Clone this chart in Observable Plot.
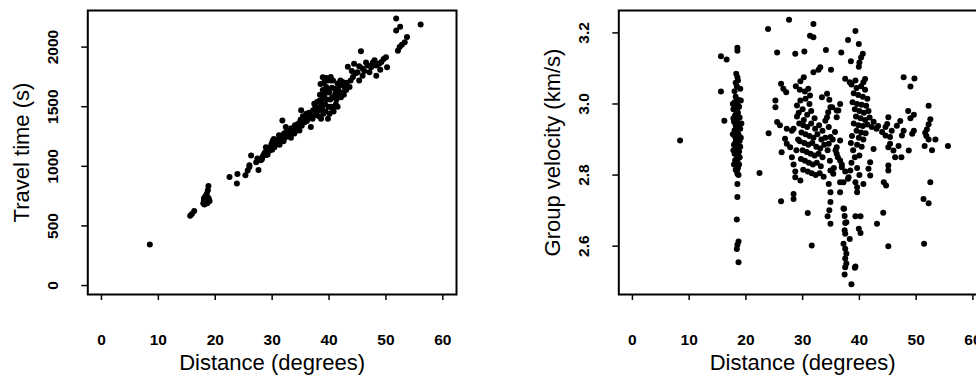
<!DOCTYPE html>
<html>
<head>
<meta charset="utf-8">
<script src="https://cdn.jsdelivr.net/npm/d3@7"></script>
<script src="https://cdn.jsdelivr.net/npm/@observablehq/plot@0.6"></script>
<style>
html, body { margin: 0; padding: 0; background: #fff; overflow: hidden; width: 976px; height: 377px; }
#wrap { position: relative; width: 976px; height: 377px; overflow: hidden; }
#left { position: absolute; left: 0; top: 0; width: 470px; height: 377px; }
#right { position: absolute; left: 500px; top: 0; width: 500px; height: 377px; }
#wrap svg { max-width: none !important; }
</style>
</head>
<body>
<div id="wrap"><div id="left"></div><div id="right"></div></div>
<script>
// ---- tick values and labels ----
const xTicks = [0, 10, 20, 30, 40, 50, 60];
const travelTicks = [0, 500, 1000, 1500, 2000];
const velocityTicks = [2.6, 2.8, 3.0, 3.2];
const xTitle = "Distance (degrees)";
const travelTitle = "Travel time (s)";
const velocityTitle = "Group velocity (km/s)";

// ---- left panel: [distance (deg), travel time (s)] ----
const travelPoints = [
  [8.5,345],[15.6,585],[15.9,600],[16.3,625],
  [17.9,690],[18.0,710],[18.1,680],[18.2,700],[18.3,725],[18.4,690],[18.5,745],[18.6,715],
  [18.7,700],[18.8,735],[18.5,770],[18.7,800],[18.8,835],[19.0,710],
  [18.0,730],[18.3,750],[18.6,690],[18.9,720],[18.4,710],[18.2,740],
  [22.5,910],[23.9,935],[23.8,855],[25.3,925],[25.7,965],[26.0,995],[26.0,1010],[26.3,1090],
  [27.2,1035],[27.4,1065],[27.6,970],[28.0,1050],[28.3,1080],[28.6,1105],[28.9,1160],[29.2,1100],
  [29.5,1130],[29.8,1170],[30.1,1215],[30.4,1160],[30.0,1140],[30.7,1190],[31.0,1220],[31.3,1180],
  [31.6,1245],[31.2,1260],[31.8,1385],[32.1,1275],[32.4,1330],[32.0,1210],[32.7,1250],[33.0,1290],
  [33.3,1240],[33.6,1310],[33.9,1275],[34.2,1330],[34.5,1355],[34.8,1300],[35.1,1470],[35.0,1390],
  [35.4,1420],[35.7,1370],[36.0,1440],[36.3,1400],[36.8,1330],[37.1,1400],[37.4,1525],[37.5,1460],
  [28.2,1060],[28.5,1090],[28.8,1120],[29.0,1095],[29.3,1140],[29.6,1150],[29.9,1190],[30.2,1175],
  [30.5,1200],[30.8,1215],[30.3,1230],[31.1,1200],[31.4,1240],[31.7,1225],[31.9,1260],[32.2,1240],
  [32.5,1290],[32.8,1300],[33.1,1265],[33.4,1320],[33.7,1280],[34.0,1345],[34.3,1300],[34.6,1320],
  [34.9,1370],[35.2,1340],[35.5,1390],[35.8,1410],[36.1,1380],[36.5,1450],[36.9,1420],[37.2,1470],
  [37.8,1430],[38.0,1490],[38.3,1550],[38.6,1555],[38.6,1400],[38.9,1640],[38.8,1480],[39.2,1600],
  [39.5,1665],[39.3,1520],[39.8,1720],[39.8,1400],[39.6,1560],[40.1,1440],[40.0,1620],[40.3,1750],
  [40.4,1500],[40.6,1580],[40.9,1580],[41.0,1650],[41.2,1520],[41.5,1695],[41.8,1600],[42.1,1580],
  [42.4,1705],[42.7,1665],[43.0,1640],[43.6,1665],[38.9,1748],[40.3,1720],[42.4,1706],
  [37.6,1500],[37.9,1540],[38.2,1470],[38.4,1600],[38.5,1690],[38.7,1520],[39.0,1580],[39.1,1700],
  [39.4,1460],[39.5,1740],[39.7,1640],[39.9,1500],[40.2,1560],[40.5,1660],[40.7,1720],[40.8,1460],
  [41.1,1610],[41.3,1560],[41.6,1640],[41.9,1680],[42.2,1620],[42.0,1720],[42.6,1600],[43.1,1700],
  [38.2,1420],[39.0,1440],[40.6,1480],[41.5,1500],
  [43.3,1835],[44.4,1860],[45.0,1790],[44.2,1750],[45.3,1720],[45.9,1760],[45.6,1965],[45.9,1820],
  [46.8,1845],[47.1,1790],[48.0,1890],[48.3,1845],[48.3,1760],[49.2,1875],[50.0,1915],[50.2,1830],
  [43.8,1720],[44.0,1800],[44.7,1780],[45.3,1840],[46.2,1800],[46.5,1870],[47.4,1830],[47.7,1870],
  [48.8,1860],[49.6,1900],[49.0,1810],
  [51.8,2240],[56.1,2190],[51.8,2140],[52.5,2170],[53.7,2085],[53.3,2040],[52.4,2000],[52.1,1970],[52.8,2020]
];

// ---- right panel: [distance (deg), group velocity (km/s)] ----
const velocityPoints = [
  [8.4,2.897],[15.6,3.134],[16.6,3.125],[15.6,3.035],[16.2,2.953],
  [18.5,3.158],[18.5,3.150],[18.3,3.085],[18.5,3.075],[18.6,3.066],[18.2,3.060],[19.0,3.043],[18.0,3.036],[18.4,3.050],
  [18.2,3.020],[18.6,3.012],[18.0,3.005],[18.4,2.998],[18.8,2.992],[17.8,2.985],[18.3,2.980],[18.6,2.975],
  [18.1,2.968],[18.9,2.962],[18.4,2.955],[17.9,2.950],[18.6,2.945],[18.2,2.940],[18.8,2.932],[18.0,2.926],
  [18.4,2.920],[18.7,2.914],[18.1,2.908],[18.5,2.902],[18.9,2.896],[18.3,2.890],[17.9,2.885],[18.6,2.878],
  [18.2,2.872],[18.8,2.866],[18.0,2.860],[18.4,2.854],[18.7,2.848],[18.1,2.842],[18.5,2.836],[18.3,2.828],
  [18.6,2.820],[18.4,2.812],[18.5,2.804],[18.5,2.775],[18.5,2.738],[18.4,2.675],[18.7,2.613],[18.5,2.604],
  [18.4,2.592],[18.7,2.555],[22.4,2.806],
  [17.7,3.000],[19.1,3.010],[17.8,2.960],[19.2,2.945],[17.7,2.915],[19.1,2.905],[17.8,2.870],[19.0,2.880],
  [18.9,2.850],[17.9,2.830],[18.8,2.830],[18.2,2.815],[18.7,2.800],[18.0,2.955],[18.4,2.985],[18.2,2.895],
  [18.6,2.860],[19.0,2.930],[18.3,2.930],[18.6,2.995],
  [23.9,3.211],[27.6,3.237],[31.9,3.225],[31.3,3.192],[31.9,3.188],[25.5,3.145],[28.7,3.141],[30.3,3.148],
  [34.1,3.152],[36.8,3.145],[31.9,3.089],[32.8,3.096],[33.1,3.103],[35.0,3.096],[30.2,3.075],[29.6,3.064],
  [26.2,3.057],[26.6,3.043],[27.1,3.033],[31.0,3.043],[31.3,3.024],[30.5,3.015],[29.6,3.010],[29.0,2.996],
  [25.2,3.010],[25.2,2.991],[34.7,3.012],[34.9,2.991],[34.5,2.977],[34.3,2.963],[36.6,3.000],[36.3,2.982],
  [36.0,2.963],[25.5,2.949],[26.0,2.940],[27.2,2.930],[28.1,2.925],[28.4,2.930],[24.0,2.918],[26.9,2.902],
  [27.2,2.888],[27.8,2.878],[26.3,2.864],[28.1,2.850],[28.4,2.830],[28.7,2.810],[28.7,2.794],[29.6,2.785],
  [34.6,2.775],[34.9,2.752],[36.6,2.752],[34.9,2.724],[28.4,2.747],[28.4,2.733],[26.2,2.726],[30.9,2.693],
  [34.4,2.684],[34.9,2.663],[34.7,2.701],[37.3,2.705],[37.4,2.685],[37.5,2.665],[37.4,2.645],[31.6,2.602],
  [28.8,3.050],[29.5,3.040],[30.4,3.035],[31.2,3.000],[30.0,2.985],[29.3,2.975],[30.8,2.970],[31.5,2.980],
  [32.1,2.960],[30.2,2.955],[29.0,2.965],
  [29.4,2.945],[30.1,2.940],[30.8,2.935],[31.5,2.945],[32.2,2.930],[32.9,2.940],[33.5,2.925],[29.8,2.920],
  [30.5,2.915],[31.2,2.910],[31.9,2.905],[32.6,2.915],[33.3,2.900],[34.0,2.905],[29.5,2.895],[30.3,2.890],
  [31.0,2.885],[31.7,2.890],[32.4,2.880],[33.1,2.875],[33.8,2.885],[30.0,2.870],[30.7,2.865],[31.4,2.860],
  [32.1,2.855],[32.8,2.860],[33.5,2.850],[29.7,2.845],[30.4,2.840],[31.1,2.835],[31.8,2.830],[32.5,2.835],
  [33.2,2.825],[30.1,2.815],[30.9,2.810],[31.6,2.805],[32.3,2.800],[33.0,2.805],[33.7,2.795],[29.2,2.900],
  [28.9,2.870],[34.4,2.870],[34.8,2.840],[35.3,2.900],[35.8,2.870],[36.2,2.850],[35.5,2.820],[36.9,2.830],
  [37.5,2.810],[38.0,2.790],[37.2,2.780],
  [33.4,3.019],[34.3,3.029],[35.2,2.991],[36.0,2.982],[34.0,2.953],[34.6,2.935],[35.7,2.921],[34.9,2.907],
  [36.6,2.897],[36.0,2.878],[34.6,2.888],[36.0,2.860],[36.6,2.841],[36.9,2.822],[38.4,2.813],[38.1,2.794],
  [36.6,2.780],[35.4,2.804],[34.9,2.813],
  [38.6,3.055],[39.5,3.045],[40.3,3.050],[41.0,3.040],[39.0,3.030],[39.8,3.025],[40.6,3.020],[41.4,3.015],
  [38.8,3.005],[39.6,3.000],[40.4,2.998],[41.2,2.995],[39.2,2.985],[40.0,2.980],[40.8,2.975],[41.6,2.980],
  [39.4,2.965],[40.2,2.960],[41.0,2.955],[41.8,2.962],[42.5,2.950],[39.0,2.945],[39.8,2.940],[40.6,2.938],
  [41.4,2.942],[42.2,2.935],[43.0,2.930],[43.3,2.938],[39.5,2.925],[40.3,2.920],[41.1,2.918],[38.7,2.910],
  [39.9,2.905],[40.7,2.900],[38.5,2.890],[39.6,2.885],[40.4,2.880],[38.9,2.870],[39.2,2.850],[40.0,2.855],
  [38.6,2.835],[39.6,2.820],[40.0,2.800],[39.3,2.780],
  [41.0,3.070],[40.7,3.061],[39.3,3.066],[42.5,2.873],[41.9,2.836],[41.6,2.818],[41.9,2.799],[40.7,2.775],
  [39.6,2.766],[39.6,2.752],
  [39.3,3.205],[38.0,3.180],[39.9,3.169],[40.6,3.141],[40.3,3.131],[40.0,3.117],[39.9,3.105],[38.5,3.120],
  [37.5,3.071],[38.3,3.061],
  [37.5,2.635],[37.2,2.607],[37.5,2.593],[37.7,2.579],[37.5,2.565],[37.7,2.551],[37.5,2.541],[37.4,2.520],
  [38.3,2.620],[39.2,2.539],[38.6,2.493],[37.2,2.706],[37.7,2.667],[39.9,2.649],[39.3,2.684],
  [47.8,3.075],[49.7,3.072],[49.0,3.049],[48.6,2.980],[49.6,2.970],[49.0,2.960],[47.2,2.952],[46.6,2.939],
  [45.1,2.963],[44.9,2.944],[44.6,2.935],[44.0,2.921],[44.6,2.911],[45.4,2.907],[45.7,2.925],[47.8,2.925],
  [47.5,2.911],[49.3,2.916],[49.6,2.925],[52.2,2.995],[52.5,2.957],[52.2,2.943],[51.9,2.929],[51.6,2.919],
  [51.8,2.910],[52.2,2.900],[53.4,2.900],[51.5,2.882],[52.8,2.870],[55.6,2.882],[46.9,2.882],[45.4,2.888],
  [45.1,2.878],[46.0,2.869],[46.3,2.850],[47.4,2.850],[48.7,2.869],[45.1,2.827],[45.1,2.813],[44.3,2.780],
  [44.7,2.771],[52.5,2.780],[51.3,2.733],[52.2,2.721],[40.2,2.684],[44.2,2.694],[43.1,2.663],[40.2,2.637],
  [45.1,2.600],[51.4,2.607],[39.3,2.543]
];

const FONT = "'Liberation Sans', Arial, Helvetica, sans-serif";

function panel({points, yDomain, yTicks, yFormat, yTitle, width, marginLeft, marginRight}) {
  return Plot.plot({
    width, height: 377,
    marginLeft, marginRight, marginTop: 10, marginBottom: 83,
    style: {fontFamily: FONT, background: "white", color: "black", overflow: "visible", maxWidth: "none"},
    x: {domain: [-2.4, 62.4]},
    y: {domain: yDomain},
    marks: [
      Plot.dot(points, {x: d => d[0], y: d => d[1], r: 3, fill: "black", stroke: "none"}),
      Plot.frame({stroke: "black", strokeWidth: 2}),
      Plot.axisX({ticks: xTicks, tickSize: 6, tickPadding: 33, fontSize: 15.5, fontWeight: "bold",
                  strokeWidth: 1.5, tickFormat: d => String(d), label: null}),
      Plot.axisY({ticks: yTicks, tickSize: 6, tickPadding: 24, tickRotate: -90, fontSize: 15.5, fontWeight: "bold",
                  strokeWidth: 1.5, tickFormat: yFormat, label: null}),
      Plot.text([xTitle], {text: d => d, frameAnchor: "bottom", dy: 60, lineAnchor: "top",
                           textAnchor: "middle", fontSize: 22}),
      Plot.text([yTitle], {text: d => d, frameAnchor: "left", dx: -74, rotate: -90, lineAnchor: "top",
                           textAnchor: "middle", fontSize: 22})
    ]
  });
}

document.getElementById("left").append(panel({
  points: travelPoints, yDomain: [-75, 2307], yTicks: travelTicks, yFormat: d => String(d),
  yTitle: travelTitle, width: 470, marginLeft: 87.3, marginRight: 14
}));
document.getElementById("right").append(panel({
  points: velocityPoints, yDomain: [2.464, 3.263], yTicks: velocityTicks, yFormat: d => d.toFixed(1),
  yTitle: velocityTitle, width: 500, marginLeft: 118.3, marginRight: 14
}));
</script>
</body>
</html>
